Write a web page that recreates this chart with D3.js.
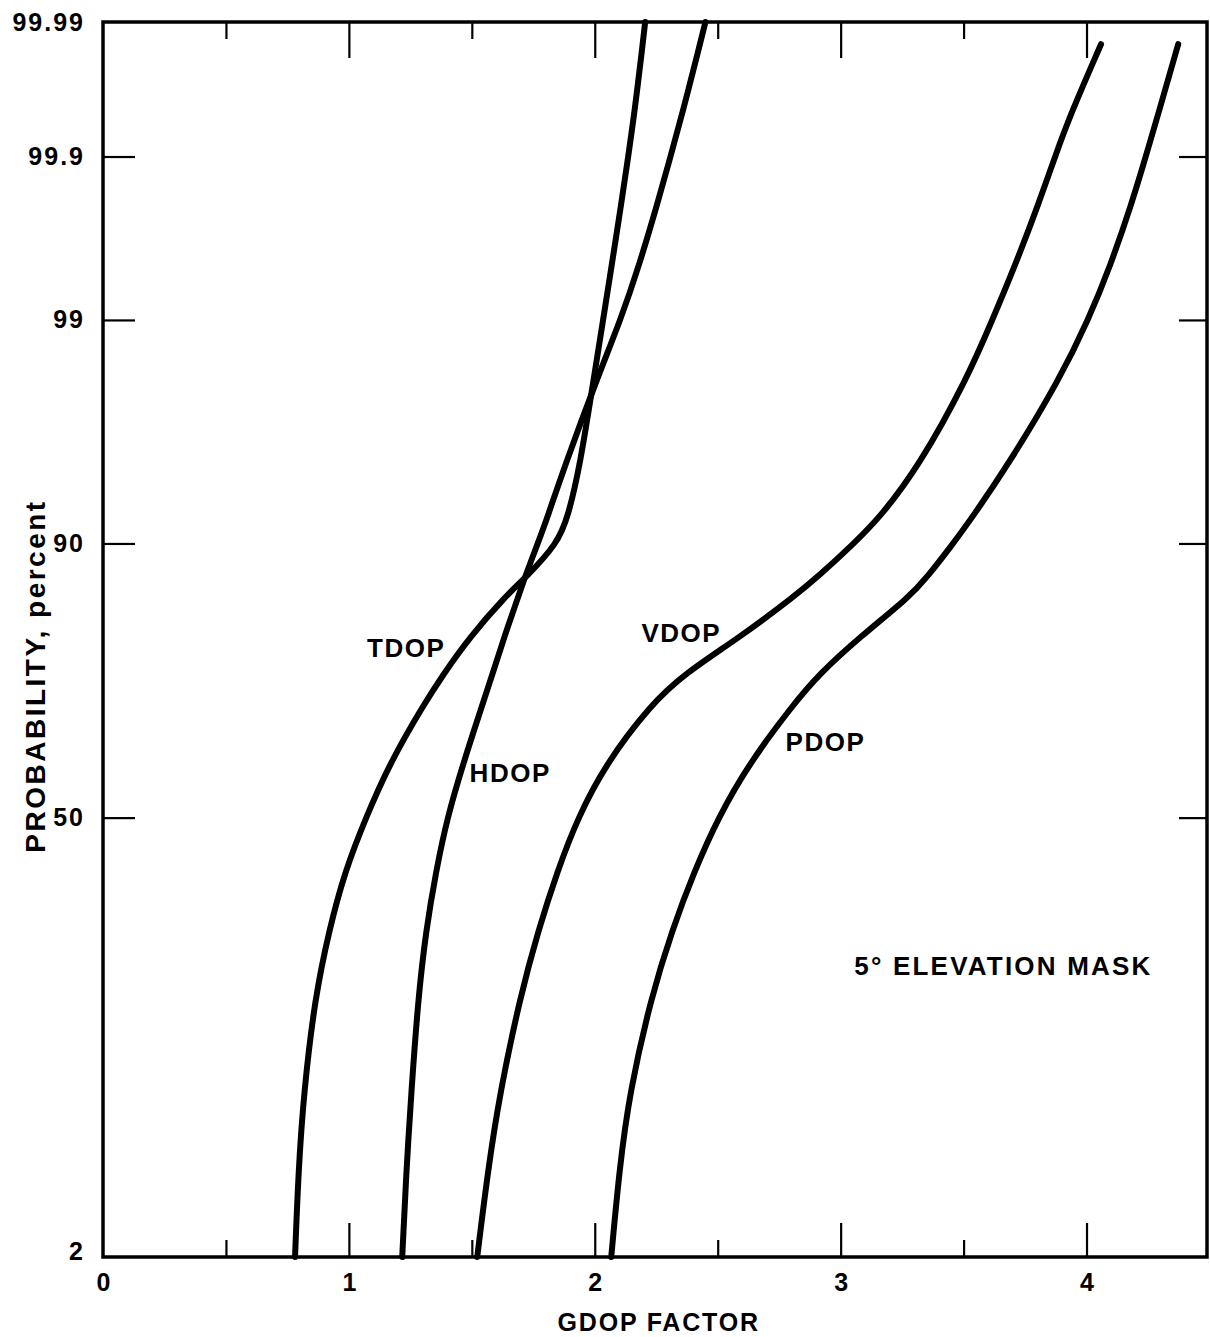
<!DOCTYPE html>
<html>
<head>
<meta charset="utf-8">
<script src="https://cdn.jsdelivr.net/npm/d3@7/dist/d3.min.js"></script>
<style>
	body { margin: 0; background: #fff; }
	svg { display: block; }
	text { font-family: "Liberation Sans", Arial, sans-serif; fill: #000; }
</style>
</head>
<body>
<svg id="chart" width="1210" height="1337"></svg>
<script>
// ****** Data
var probTicks = [2, 50, 90, 99, 99.9, 99.99];
var probTickLabels = ['2', '50', '90', '99', '99.9', '99.99'];
var gdopTicks = [0, 1, 2, 3, 4];
var gdopHalfTicks = [0.5, 1.5, 2.5, 3.5];

// probability levels (percent) at which the curves were read
var probLevels = [2, 5, 10, 20, 30, 40, 50, 60, 70, 75, 80, 85, 87, 90, 92, 95, 98, 99, 99.5, 99.8, 99.9, 99.95, 99.985, 99.99];

var tdop = [0.781, 0.795, 0.817, 0.862, 0.920, 0.983, 1.069, 1.166, 1.302, 1.387, 1.490, 1.638, 1.723, 1.848, 1.891, 1.940, 1.996, 2.034, 2.068, 2.109, 2.136, 2.161, 2.195, 2.205];
var hdop = [1.217, 1.234, 1.254, 1.282, 1.314, 1.354, 1.400, 1.465, 1.542, 1.585, 1.631, 1.690, 1.717, 1.768, 1.808, 1.878, 2.010, 2.105, 2.179, 2.257, 2.308, 2.356, 2.428, 2.450];
// these two stop just under the top edge
var vdop = [1.522, 1.566, 1.615, 1.696, 1.771, 1.847, 1.931, 2.046, 2.225, 2.367, 2.588, 2.814, 2.908, 3.054, 3.161, 3.320, 3.515, 3.617, 3.708, 3.808, 3.872, 3.936, 4.059];
var pdop = [2.067, 2.100, 2.142, 2.229, 2.315, 2.404, 2.502, 2.628, 2.804, 2.916, 3.076, 3.284, 3.353, 3.458, 3.536, 3.679, 3.893, 4.007, 4.096, 4.186, 4.241, 4.292, 4.373];

var seriesNames = ['TDOP', 'HDOP', 'VDOP', 'PDOP'];
var seriesValues = [tdop, hdop, vdop, pdop];

// ****** Normal probability axis: inverse normal CDF (Acklam)
function probit(p) {
	var a = [-3.969683028665376e+01, 2.209460984245205e+02, -2.759285104469687e+02, 1.383577518672690e+02, -3.066479806614716e+01, 2.506628277459239e+00];
	var b = [-5.447609879822406e+01, 1.615858368580409e+02, -1.556989798598866e+02, 6.680131188771972e+01, -1.328068155288572e+01];
	var c = [-7.784894002430293e-03, -3.223964580411365e-01, -2.400758277161838e+00, -2.549732539343734e+00, 4.374664141464968e+00, 2.938163982698783e+00];
	var d = [7.784695709041462e-03, 3.224671290700398e-01, 2.445134137142996e+00, 3.754408661907416e+00];
	var plow = 0.02425, q, r;
	if (p < plow) {
		q = Math.sqrt(-2 * Math.log(p));
		return (((((c[0]*q+c[1])*q+c[2])*q+c[3])*q+c[4])*q+c[5]) / ((((d[0]*q+d[1])*q+d[2])*q+d[3])*q+1);
	}
	if (p <= 1 - plow) {
		q = p - 0.5; r = q * q;
		return (((((a[0]*r+a[1])*r+a[2])*r+a[3])*r+a[4])*r+a[5])*q / (((((b[0]*r+b[1])*r+b[2])*r+b[3])*r+b[4])*r+1);
	}
	q = Math.sqrt(-2 * Math.log(1 - p));
	return -(((((c[0]*q+c[1])*q+c[2])*q+c[3])*q+c[4])*q+c[5]) / ((((d[0]*q+d[1])*q+d[2])*q+d[3])*q+1);
}

// ****** Layout
var plot = {left: 103, right: 1207, top: 22, bottom: 1257};

var x = d3.scaleLinear().domain([0, 4.49]).range([plot.left, plot.right]);
var y = d3.scaleLinear()
	.domain([probit(0.02), probit(0.9999)])
	.range([plot.bottom, plot.top]);
function yP(p) { return y(probit(p / 100)); }

var svg = d3.select('#chart');

// frame
svg.append('rect')
	.attr('x', plot.left).attr('y', plot.top)
	.attr('width', plot.right - plot.left)
	.attr('height', plot.bottom - plot.top)
	.attr('fill', 'none')
	.attr('stroke', '#000')
	.attr('stroke-width', 3.5);

// ****** Axes
function styleAxis(g, fontSize) {
	g.select('.domain').remove();
	g.selectAll('.tick line').attr('stroke', '#000').attr('stroke-width', 2.2);
	g.selectAll('.tick text')
		.style('font-family', '"Liberation Sans", Arial, sans-serif')
		.style('font-weight', 'bold')
		.style('font-size', fontSize + 'px')
		.attr('fill', '#000');
}

var zTicks = probTicks.map(function(p) { return probit(p / 100); });

var leftAxis = svg.append('g')
	.attr('transform', 'translate(' + plot.left + ',0)')
	.call(d3.axisLeft(y).tickValues(zTicks).tickSize(-32).tickPadding(18)
		.tickFormat(function(d, i) { return probTickLabels[i]; }));
styleAxis(leftAxis, 25);
leftAxis.selectAll('.tick text').style('letter-spacing', '2px');
leftAxis.selectAll('.tick').filter(function(d, i) { return i == 0 || i == probTicks.length - 1; })
	.select('line').remove();
leftAxis.selectAll('.tick').filter(function(d, i) { return i == 0; })
	.select('text').attr('dy', '0.1em');

var rightAxis = svg.append('g')
	.attr('transform', 'translate(' + plot.right + ',0)')
	.call(d3.axisRight(y).tickValues(zTicks.slice(1, -1)).tickSize(-28).tickFormat(''));
styleAxis(rightAxis, 25);

var bottomAxis = svg.append('g')
	.attr('transform', 'translate(0,' + plot.bottom + ')')
	.call(d3.axisBottom(x).tickValues(gdopTicks).tickSize(-34).tickPadding(16).tickFormat(d3.format('d')));
styleAxis(bottomAxis, 25);
bottomAxis.selectAll('.tick').filter(function(d) { return d == 0; }).select('line').remove();

var bottomHalf = svg.append('g')
	.attr('transform', 'translate(0,' + plot.bottom + ')')
	.call(d3.axisBottom(x).tickValues(gdopHalfTicks).tickSize(-17).tickFormat(''));
styleAxis(bottomHalf, 25);

var topAxis = svg.append('g')
	.attr('transform', 'translate(0,' + plot.top + ')')
	.call(d3.axisTop(x).tickValues(gdopTicks.slice(1)).tickSize(-36).tickFormat(''));
styleAxis(topAxis, 25);

var topHalf = svg.append('g')
	.attr('transform', 'translate(0,' + plot.top + ')')
	.call(d3.axisTop(x).tickValues(gdopHalfTicks).tickSize(-17).tickFormat(''));
styleAxis(topHalf, 25);

// axis titles
svg.append('text')
	.attr('x', x(2.26)).attr('y', plot.bottom + 65)
	.attr('dy', '0.35em')
	.attr('text-anchor', 'middle')
	.style('font-size', '25px')
	.style('font-weight', 'bold')
	.style('letter-spacing', '1.8px')
	.text('GDOP FACTOR');

svg.append('text')
	.attr('transform', 'translate(35,' + yP(74.6) + ') rotate(-90)')
	.attr('dy', '0.35em')
	.attr('text-anchor', 'middle')
	.style('font-size', '28px')
	.style('font-weight', 'bold')
	.style('letter-spacing', '2.5px')
	.text('PROBABILITY, percent');

// ****** Curves (hand-traced points, so smooth them with a b-spline)
var line = d3.line()
	.x(function(d) { return x(d.g); })
	.y(function(d) { return yP(d.p); })
	.curve(d3.curveBasis);

seriesValues.forEach(function(vals, k) {
	var pts = vals.map(function(g, i) { return {g: g, p: probLevels[i]}; });
	svg.append('path')
		.datum(pts)
		.attr('class', 'curve ' + seriesNames[k])
		.attr('d', line)
		.attr('fill', 'none')
		.attr('stroke', '#000')
		.attr('stroke-width', 6)
		.attr('stroke-linecap', 'round')
		.attr('stroke-linejoin', 'round');
});

// ****** Labels
var labels = [
	{t: 'TDOP', g: 1.233, p: 78.6, ls: 1.5},
	{t: 'HDOP', g: 1.656, p: 58.3, ls: 1.5},
	{t: 'VDOP', g: 2.352, p: 80.7, ls: 1.5},
	{t: 'PDOP', g: 2.938, p: 63.8, ls: 1.5},
	{t: '5\u00B0 ELEVATION MASK', g: 3.662, p: 24.4, ls: 2.2}
];
svg.selectAll('text.curve-label')
	.data(labels)
	.enter().append('text')
	.attr('class', 'curve-label')
	.attr('x', function(d) { return x(d.g); })
	.attr('y', function(d) { return yP(d.p); })
	.attr('dy', '0.36em')
	.attr('text-anchor', 'middle')
	.style('font-size', '26px')
	.style('font-weight', 'bold')
	.style('letter-spacing', function(d) { return d.ls + 'px'; })
	.text(function(d) { return d.t; });
</script>
</body>
</html>
